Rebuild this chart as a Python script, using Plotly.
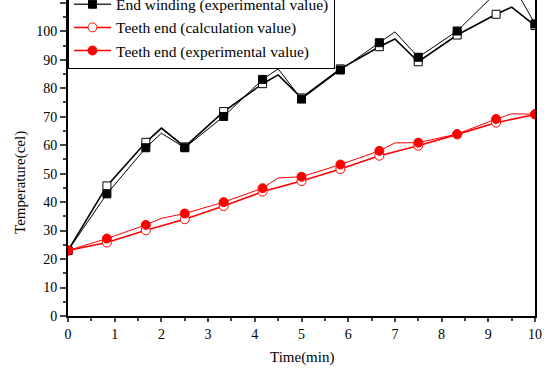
import plotly.graph_objects as go

# ---- data ----
t_marker = [0, 0.833, 1.667, 2.5, 3.333, 4.167, 5.0, 5.833, 6.667, 7.5, 8.333, 9.167, 10]

ew_calc = [23, 45.7, 61.0, 59.4, 71.8, 81.6, 76.6, 86.8, 94.6, 89.3, 98.7, 106.0, 102.0]
ew_exp = [23, 42.9, 59.1, 59.1, 70.1, 83.1, 76.2, 86.4, 96.0, 90.9, 100.1, 113.5, 102.6]
te_calc = [23, 25.8, 30.1, 34.0, 38.6, 43.7, 47.4, 51.6, 56.3, 59.8, 63.8, 67.9, 70.8]
te_exp = [23, 27.2, 32.0, 36.0, 40.0, 44.9, 48.9, 53.2, 58.0, 60.9, 63.9, 69.2, 70.9]

# extra line samples between markers (duty-cycle corners)
ew_calc_extra_t = [2.0, 4.5, 7.0, 9.5]
ew_calc_extra = [66.0, 84.7, 97.3, 108.5]
ew_exp_extra_t = [2.0, 4.5, 7.0, 9.5]
ew_exp_extra = [64.2, 86.8, 99.8, 117.0]
te_calc_extra_t = []
te_calc_extra = []
te_exp_extra_t = [2.0, 4.5, 7.0, 9.5]
te_exp_extra = [34.3, 48.5, 60.8, 71.0]

names = ["End winding (calculation value)", "End winding (experimental value)",
         "Teeth end (calculation value)", "Teeth end (experimental value)"]


def merged(tm, ym, te, ye):
    pts = sorted(list(zip(tm, ym)) + list(zip(te, ye)))
    return [p[0] for p in pts], [p[1] for p in pts]


series = [
    (ew_calc, ew_calc_extra_t, ew_calc_extra, "black", 1.6, "square", "white", 8),
    (ew_exp, ew_exp_extra_t, ew_exp_extra, "black", 1.0, "square", "black", 8),
    (te_calc, te_calc_extra_t, te_calc_extra, "red", 1.6, "circle", "white", 9),
    (te_exp, te_exp_extra_t, te_exp_extra, "red", 1.0, "circle", "red", 9),
]

fig = go.Figure()
for i, (ym, te, ye, col, lw, sym, fill, ms) in enumerate(series):
    lx, ly = merged(t_marker, ym, te, ye)
    fig.add_trace(go.Scatter(x=lx, y=ly, mode="lines", line=dict(color=col, width=lw),
                             showlegend=False, hoverinfo="skip"))
    fig.add_trace(go.Scatter(x=t_marker, y=ym, mode="markers", name=names[i],
                             marker=dict(symbol=sym, size=ms, color=fill,
                                         line=dict(color=col, width=1)),
                             showlegend=False, cliponaxis=True))
    fig.add_trace(go.Scatter(x=[None], y=[None], mode="lines+markers", name=names[i],
                             line=dict(color="#333333" if col == "black" else col, width=1.5),
                             marker=dict(symbol=sym, size=ms, color=fill,
                                         line=dict(color=col, width=1)),
                             showlegend=True))

font = "Liberation Serif, Times New Roman, serif"
fig.update_layout(
    width=548, height=372,
    margin=dict(l=68, r=13, t=0, b=56, autoexpand=False),
    paper_bgcolor="white", plot_bgcolor="white",
    font=dict(family=font, size=14, color="black"),
    legend=dict(x=0, xanchor="left", y=1.1155, yanchor="top",
                bgcolor="white", bordercolor="black", borderwidth=1,
                font=dict(family=font, size=15.5, color="black"),
                itemwidth=37, tracegroupgap=0),
    xaxis=dict(range=[0, 10], dtick=1, ticks="outside", ticklen=4, tickwidth=1.5,
               showline=True, linecolor="black", linewidth=2, mirror=False,
               showgrid=False, zeroline=False,
               tickfont=dict(family=font, size=14),
               minor=dict(dtick=0.5, ticks="outside", ticklen=3, tickwidth=1.5)),
    yaxis=dict(range=[0, 111], dtick=10, ticks="outside", ticklen=6, tickwidth=1.5,
               showline=True, linecolor="black", linewidth=2, mirror=True,
               showgrid=False, zeroline=False,
               tickfont=dict(family=font, size=14),
               minor=dict(dtick=5, ticks="outside", ticklen=3, tickwidth=1.5)),
    annotations=[
        dict(text="Time(min)", xref="paper", yref="paper", x=0.5, y=-0.13,
             xanchor="center", yanchor="middle",
             showarrow=False, font=dict(family=font, size=15)),
        dict(text="Temperature(cel)", xref="paper", yref="paper", x=-0.103, y=0.424,
             xanchor="center", yanchor="middle",
             textangle=-90, showarrow=False, font=dict(family=font, size=15)),
    ],
)

fig.write_html("out.html")
